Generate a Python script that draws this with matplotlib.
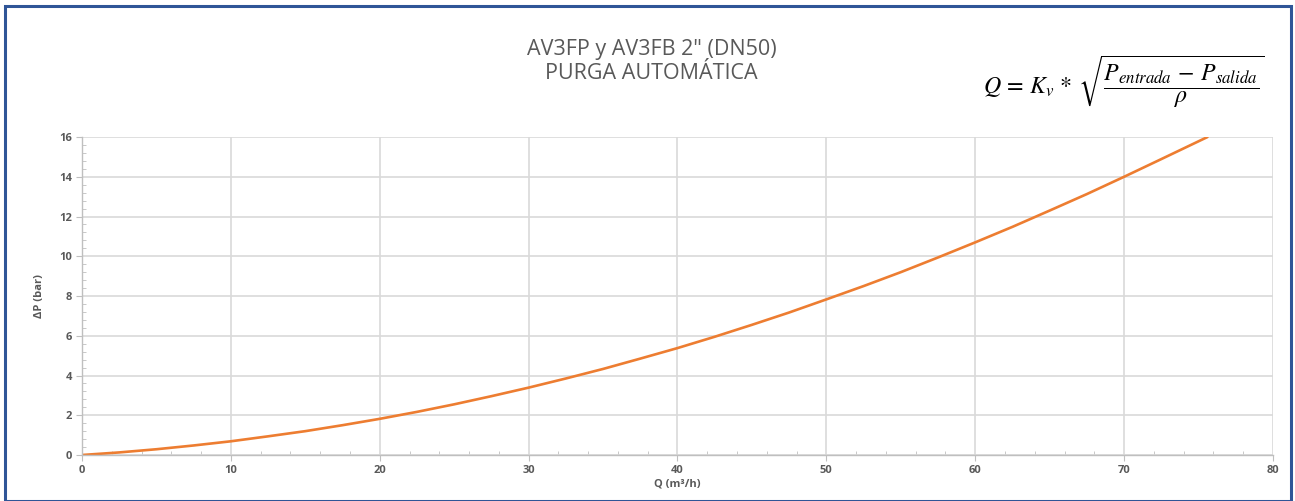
import matplotlib
matplotlib.use("Agg")
import matplotlib.pyplot as plt
from matplotlib.patches import Rectangle
from matplotlib.ticker import MultipleLocator

# Curve (Q in m3/h, pressure drop in bar)
caudal = [0, 2.5, 5, 7.5, 10, 12.5, 15, 17.5, 20, 22.5, 25, 27.5, 30, 32.5, 35, 37.5,
          40, 42.5, 45, 47.5, 50, 52.5, 55, 57.5, 60, 62.5, 65, 67.5, 70, 72.5, 75.6]
delta_p = [0, 0.13, 0.29, 0.48, 0.69, 0.94, 1.2, 1.5, 1.82, 2.17, 2.55, 2.96, 3.39, 3.85, 4.33, 4.85,
           5.38, 5.95, 6.55, 7.17, 7.83, 8.5, 9.2, 9.94, 10.7, 11.48, 12.3, 13.13, 14.0, 14.89, 16.0]

titulo = 'AV3FP y AV3FB 2" (DN50)\nPURGA AUTOMÁTICA'
formula = r"$Q\,=\,K_v\,*\,\sqrt{\dfrac{P_{entrada}\,-\,P_{salida}}{\rho}}$"

plt.rcParams["font.family"] = ["Open Sans", "DejaVu Sans"]
plt.rcParams["mathtext.fontset"] = "stix"

gris = "#595959"
rejilla = "#D9D9D9"

fig = plt.figure(figsize=(12.95, 5.01), dpi=100)
ax = fig.add_axes([0.0633, 0.0918, 0.9197, 0.6347])

#Main curve
ax.plot(caudal, delta_p, color="#ED7D31", linewidth=1.9, solid_capstyle="round")

ax.set_xlim(0, 80)
ax.set_ylim(0, 16)
ax.xaxis.set_major_locator(MultipleLocator(10))
ax.xaxis.set_minor_locator(MultipleLocator(2))
ax.yaxis.set_major_locator(MultipleLocator(2))
ax.yaxis.set_minor_locator(MultipleLocator(0.4))
ax.grid(True, which="major", color=rejilla, linewidth=1.2)
ax.set_axisbelow(True)

for side in ["top", "right"]:
    ax.spines[side].set_visible(False)
for side in ["left", "bottom"]:
    ax.spines[side].set_color("#BFBFBF")
    ax.spines[side].set_linewidth(1.0)

ax.tick_params(which="major", direction="out", length=4, color="#BFBFBF",
               labelsize=8, labelcolor=gris, pad=3)
ax.tick_params(which="minor", direction="in", length=3, color="#BFBFBF")
for lab in ax.get_xticklabels() + ax.get_yticklabels():
    lab.set_fontweight("bold")

ax.set_xlabel("Q (m³/h)", fontsize=8, color=gris, fontweight="bold", labelpad=2)
ax.set_ylabel("ΔP (bar)", fontsize=8, color=gris, fontweight="bold", labelpad=10)

fig.text(0.503, 0.877, titulo, ha="center", va="center", fontsize=15.5,
         color=gris, linespacing=1.15)
fig.text(0.868, 0.836, formula, ha="center", va="center", fontsize=17.2, color="black")

#Blue frame around the whole picture
fig.patches.append(Rectangle((0.0035, 0.0), 0.9935, 0.9875, transform=fig.transFigure,
                             fill=False, edgecolor="#2F5597", linewidth=2.2))

fig.savefig("out.png", dpi=100)
